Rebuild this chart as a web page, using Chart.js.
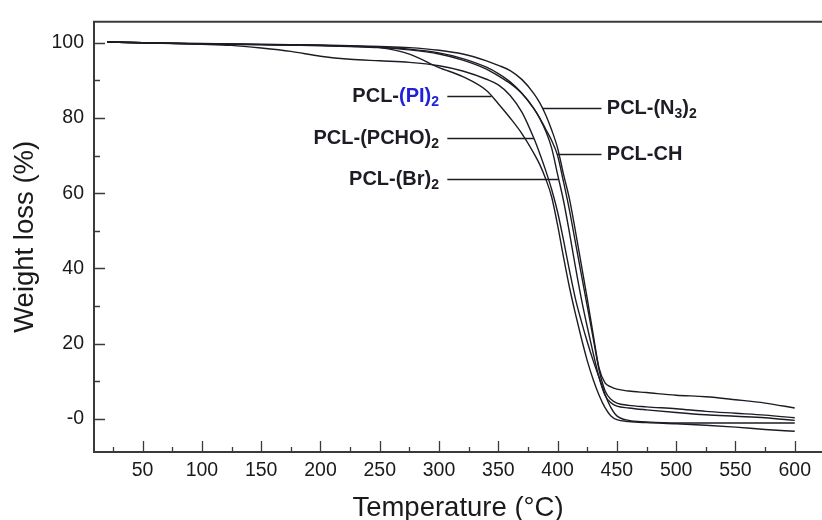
<!DOCTYPE html>
<html><head><meta charset="utf-8">
<script src="https://cdn.jsdelivr.net/npm/chart.js@4.4.1/dist/chart.umd.min.js"></script>
<style>html,body{margin:0;padding:0;background:#fff;overflow:hidden}canvas{display:block}</style>
</head><body>
<canvas id="c" width="822" height="520"></canvas>
<script>
// ---- data ----
const temperature = [20, 50, 100, 125, 150, 175, 200, 225, 250, 275, 300, 320, 340, 350, 360, 370, 380, 385, 390, 395, 400, 405, 410, 415, 420, 425, 430, 435, 440, 445, 450, 460, 475, 500, 525, 550, 575, 600];
const weightPI   = [100.2, 100.0, 99.7, 99.6, 99.5, 99.4, 99.3, 99.1, 98.7, 97.0, 93.4, 91.0, 87.3, 83.8, 80.0, 75.8, 70.6, 67.6, 63.8, 59.0, 51.5, 43.0, 35.0, 28.0, 21.5, 15.5, 10.5, 6.3, 3.0, 0.8, -0.2, -0.7, -1.0, -1.3, -1.7, -2.2, -2.8, -3.3];
const weightPCHO = [100.2, 100.0, 99.6, 99.3, 98.6, 97.7, 96.4, 95.6, 95.2, 94.8, 93.9, 92.5, 90.3, 88.8, 86.0, 81.5, 74.6, 70.5, 66.0, 61.0, 55.0, 47.5, 39.5, 32.0, 26.0, 20.5, 15.5, 11.0, 6.5, 3.0, 0.8, -0.4, -0.8, -1.1, -1.1, -1.1, -1.1, -1.1];
const weightBr   = [100.2, 100.0, 99.7, 99.6, 99.5, 99.4, 99.2, 99.0, 98.7, 98.1, 97.0, 95.4, 93.0, 91.2, 89.2, 86.5, 82.5, 79.8, 76.5, 72.0, 65.0, 58.0, 49.5, 40.5, 32.0, 24.5, 17.5, 11.0, 6.3, 4.3, 3.4, 2.9, 2.4, 1.7, 1.1, 0.7, 0.3, -0.4];
const weightN3   = [100.2, 100.0, 99.8, 99.7, 99.6, 99.5, 99.4, 99.2, 99.0, 98.7, 98.0, 97.0, 95.2, 94.0, 92.6, 90.2, 86.5, 84.0, 80.8, 76.8, 72.0, 65.0, 58.5, 50.0, 41.0, 32.0, 22.5, 13.5, 9.6, 8.5, 7.9, 7.4, 7.0, 6.3, 5.9, 5.1, 4.2, 2.9];
const weightCH   = [100.2, 100.0, 99.7, 99.6, 99.5, 99.4, 99.3, 99.1, 98.8, 98.3, 97.3, 95.8, 93.5, 91.8, 89.6, 86.5, 82.5, 80.0, 77.0, 74.0, 70.0, 63.0, 55.5, 47.0, 38.5, 30.0, 21.5, 13.0, 7.5, 5.2, 4.2, 3.6, 3.2, 2.7, 2.0, 1.5, 1.0, 0.3];
const seriesNames = ['PCL-(PI)2', 'PCL-(PCHO)2', 'PCL-(Br)2', 'PCL-(N3)2', 'PCL-CH'];
const xMajorTicks = [50, 100, 150, 200, 250, 300, 350, 400, 450, 500, 550, 600];
const xMinorTicks = [25, 75, 125, 175, 225, 275, 325, 375, 425, 475, 525, 575];
const yMajorTicks = [0, 20, 40, 60, 80, 100];
const yMinorTicks = [10, 30, 50, 70, 90];

// ---- styling ----
const INK = '#1c1c24';
const AXIS = '#3a3a3a';
const BLUE = '#1e22d8';
const TEXT_FONT = '"Liberation Sans", Arial, Helvetica, sans-serif';

function pickTickFont() {
  const c = document.createElement('canvas').getContext('2d');
  const probe = '0123456789';
  c.font = '40px monospace';
  const base = c.measureText(probe).width;
  for (const fam of ['Liberation Sans Narrow', 'Arial Narrow']) {
    c.font = '40px "' + fam + '", monospace';
    if (Math.abs(c.measureText(probe).width - base) > 0.5) return {family: '"' + fam + '", sans-serif', size: 21};
  }
  return {family: TEXT_FONT, size: 19.5};
}
const tickFont = pickTickFont();

const allWeights = [weightPI, weightPCHO, weightBr, weightN3, weightCH];
const datasets = allWeights.map((w, i) => ({
  label: seriesNames[i],
  data: temperature.map((t, k) => ({x: t, y: w[k]})),
  borderColor: INK,
  borderWidth: 1.4,
  pointRadius: 0,
  fill: false,
  cubicInterpolationMode: 'monotone'
}));

// annotation labels: [text, colour, subscript?]
const annotations = [
  {ds: 0, side: 'left',  level: 85.8, parts: [['PCL-', INK], ['(PI)', BLUE], ['2', BLUE, true]]},
  {ds: 1, side: 'left',  level: 74.6, parts: [['PCL-(PCHO)', INK], ['2', INK, true]]},
  {ds: 2, side: 'left',  level: 63.7, parts: [['PCL-(Br)', INK], ['2', INK, true]]},
  {ds: 3, side: 'right', level: 82.6, parts: [['PCL-(N', INK], ['3', INK, true], [')', INK], ['2', INK, true]]},
  {ds: 4, side: 'right', level: 70.4, parts: [['PCL-CH', INK]]}
];

function crossingX(ds, level) {
  const d = ds.data;
  for (let i = 1; i < d.length; i++) {
    if (d[i-1].x > 300 && d[i-1].y >= level && d[i].y < level) {
      const f = (d[i-1].y - level) / (d[i-1].y - d[i].y);
      return d[i-1].x + f * (d[i].x - d[i-1].x);
    }
  }
  return null;
}

const framePlugin = {
  id: 'frame',
  afterDraw(chart) {
    const {ctx, chartArea: a, scales: {x, y}} = chart;
    ctx.save();
    ctx.strokeStyle = AXIS;
    ctx.lineWidth = 2;
    ctx.beginPath();
    ctx.moveTo(a.left - 1, a.top);
    ctx.lineTo(a.right, a.top);
    ctx.stroke();
    ctx.lineWidth = 1.3;
    ctx.beginPath();
    const tick = (v, len, axis) => {
      if (axis === 'x') {
        const p = Math.round(x.getPixelForValue(v)) + 0.5;
        ctx.moveTo(p, a.bottom); ctx.lineTo(p, a.bottom - len);
      } else {
        const p = Math.round(y.getPixelForValue(v)) + 0.5;
        ctx.moveTo(a.left, p); ctx.lineTo(a.left + len, p);
      }
    };
    xMajorTicks.forEach(v => tick(v, 11, 'x'));
    xMinorTicks.forEach(v => tick(v, 5, 'x'));
    yMajorTicks.forEach(v => tick(v, 11, 'y'));
    yMinorTicks.forEach(v => tick(v, 6, 'y'));
    ctx.stroke();
    ctx.restore();
  }
};

const labelPlugin = {
  id: 'curveLabels',
  afterDatasetsDraw(chart) {
    const {ctx, scales: {x, y}} = chart;
    ctx.save();
    ctx.textBaseline = 'middle';
    ctx.textAlign = 'left';
    const mainFont = 'bold 20px ' + TEXT_FONT;
    const subFont = 'bold 14px ' + TEXT_FONT;
    annotations.forEach(an => {
      const py = y.getPixelForValue(an.level);
      const cx = x.getPixelForValue(crossingX(chart.data.datasets[an.ds], an.level));
      let width = 0;
      an.parts.forEach(p => { ctx.font = p[2] ? subFont : mainFont; width += ctx.measureText(p[0]).width; });
      let tx, l1, l2;
      if (an.side === 'left') {
        tx = x.getPixelForValue(300) - width;
        l1 = x.getPixelForValue(307); l2 = cx;
      } else {
        l1 = cx; l2 = x.getPixelForValue(437);
        tx = x.getPixelForValue(441.5);
      }
      ctx.strokeStyle = INK; ctx.lineWidth = 1.4;
      ctx.beginPath(); ctx.moveTo(l1, Math.round(py) + 0.5); ctx.lineTo(l2, Math.round(py) + 0.5); ctx.stroke();
      an.parts.forEach(p => {
        ctx.font = p[2] ? subFont : mainFont;
        ctx.fillStyle = p[1];
        ctx.fillText(p[0], tx, p[2] ? py + 6 : py);
        tx += ctx.measureText(p[0]).width;
      });
    });
    ctx.restore();
  }
};

new Chart(document.getElementById('c'), {
  type: 'line',
  data: {datasets},
  options: {
    responsive: false,
    animation: false,
    events: [],
    layout: {padding: {top: 13, right: 0, left: 0, bottom: 0}},
    plugins: {legend: {display: false}, tooltip: {enabled: false}},
    scales: {
      x: {
        type: 'linear', min: 9, max: 623,
        afterFit: s => { s.height = 68; },
        afterBuildTicks: s => { s.ticks = xMajorTicks.map(v => ({value: v})); },
        grid: {display: false, drawTicks: false},
        border: {display: true, color: AXIS, width: 2},
        ticks: {font: {family: tickFont.family, size: tickFont.size}, color: '#1a1a1a', padding: 7, maxRotation: 0, autoSkip: false},
        title: {display: true, text: 'Temperature (\u00B0C)', font: {family: TEXT_FONT, size: 27.5}, color: '#1a1a1a', padding: {top: 0, bottom: -5}}
      },
      y: {
        type: 'linear', min: -8.8, max: 105.6,
        afterFit: s => { s.width = 94; },
        afterBuildTicks: s => { s.ticks = yMajorTicks.map(v => ({value: v})); },
        grid: {display: false, drawTicks: false},
        border: {display: true, color: AXIS, width: 2},
        ticks: {font: {family: tickFont.family, size: tickFont.size}, color: '#1a1a1a', padding: 10, callback: v => v === 0 ? '-0' : String(v)},
        title: {display: true, text: 'Weight loss (%)', font: {family: TEXT_FONT, size: 27.5}, color: '#1a1a1a', padding: {top: 8.5, bottom: 0}}
      }
    }
  },
  plugins: [framePlugin, labelPlugin]
});
</script>
</body></html>
